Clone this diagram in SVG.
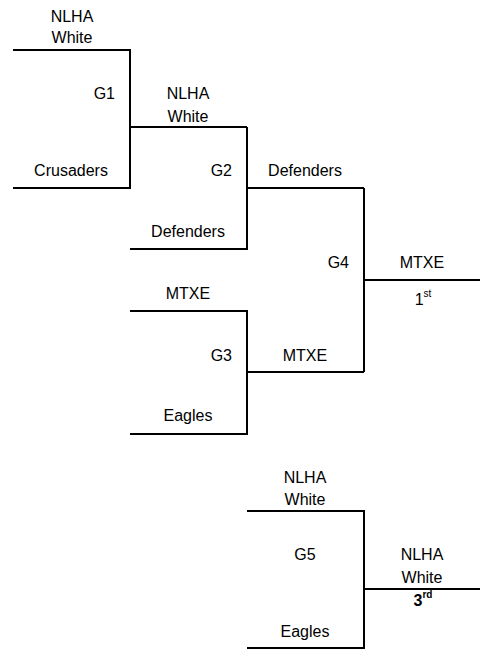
<svg xmlns="http://www.w3.org/2000/svg" width="480" height="649" viewBox="0 0 480 649">
<style>
.t{font-family:"Liberation Sans",Arial,sans-serif;font-size:16px;fill:#000;text-anchor:middle}
.r{text-anchor:end}
.b{font-weight:bold}
.sup{font-size:10px}
.ln{fill:none;stroke:#000;stroke-width:2}
</style>
<rect width="480" height="649" fill="#fff"/>
<g id="connectors">
<path class="ln" d="M13 50H130V188H13M130 127H247"/>
<path class="ln" d="M130 249H247V127M247 188H364"/>
<path class="ln" d="M130 311H247V434H130M247 372H364"/>
<path class="ln" d="M364 188V372M364 280H480"/>
<path class="ln" d="M247 511H364V648H247M364 589H480"/>
</g>
<g id="g1">
<text class="t" x="72" y="22">NLHA</text>
<text class="t" x="72" y="43">White</text>
<text class="t r" x="115" y="99">G1</text>
<text class="t" x="71" y="176">Crusaders</text>
</g>
<g id="g2">
<text class="t" x="188" y="99">NLHA</text>
<text class="t" x="188" y="122">White</text>
<text class="t r" x="232" y="176">G2</text>
<text class="t" x="188" y="237">Defenders</text>
</g>
<g id="g3">
<text class="t" x="188" y="299">MTXE</text>
<text class="t r" x="232" y="361">G3</text>
<text class="t" x="188" y="421">Eagles</text>
</g>
<g id="g4">
<text class="t" x="305" y="176">Defenders</text>
<text class="t" x="305" y="361">MTXE</text>
<text class="t r" x="349" y="268">G4</text>
<text class="t" x="422" y="268">MTXE</text>
<text class="t" x="423" y="305">1<tspan class="sup" dy="-8">st</tspan></text>
</g>
<g id="g5">
<text class="t" x="305" y="483">NLHA</text>
<text class="t" x="305" y="505">White</text>
<text class="t" x="305" y="560">G5</text>
<text class="t" x="305" y="637">Eagles</text>
<text class="t" x="422" y="560">NLHA</text>
<text class="t" x="422" y="583">White</text>
<text class="t b" x="423" y="606">3<tspan class="sup" dy="-8">rd</tspan></text>
</g>
</svg>
